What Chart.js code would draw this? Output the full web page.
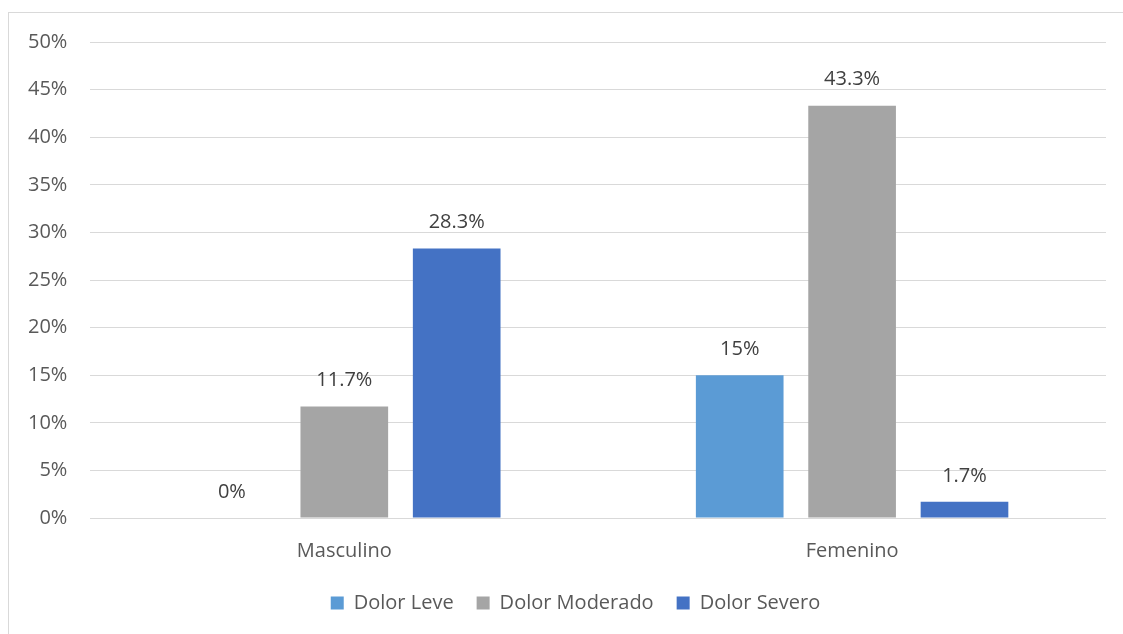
<!DOCTYPE html>
<html>
<head>
<meta charset="utf-8">
<script src="https://cdn.jsdelivr.net/npm/chart.js@4"></script>
<style>
  html, body { margin: 0; padding: 0; background: #fff; }
  #wrap { position: relative; width: 1123px; height: 634px; overflow: hidden; }
  #frame { position: absolute; left: 8px; top: 12px; width: 1200px; height: 700px; border: 1px solid #d9d9d9; }
  canvas { position: absolute; left: 0; top: 0; }
</style>
</head>
<body>
<div id="wrap">
  <div id="frame"></div>
  <canvas id="grafico" width="1123" height="634"></canvas>
</div>
<script>
// categorias y series (porcentaje)
var categorias = ['Masculino', 'Femenino'];
var series = ['Dolor Leve', 'Dolor Moderado', 'Dolor Severo'];
var dolorLeve = [0, 15];
var dolorModerado = [11.7, 43.3];
var dolorSevero = [28.3, 1.7];
var colores = ['#5b9bd5', '#a5a5a5', '#4472c4'];

var fuente = 'Open Sans, sans-serif';
var tam = 20;

// etiquetas de valor encima de cada barra
var etiquetas = {
    id: 'etiquetas',
    afterLayout: function (chart) {
        // leyenda corrida a la derecha y un poco arriba
        chart.legend.left += 20;
        chart.legend.right += 20;
        chart.legend.top -= 6;
        chart.legend.bottom -= 6;
    },
    afterDatasetsDraw: function (chart) {
        var ctx = chart.ctx;
        ctx.save();
        ctx.font = tam + 'px ' + fuente;
        ctx.fillStyle = '#404040';
        ctx.textAlign = 'center';
        ctx.textBaseline = 'middle';
        chart.data.datasets.forEach(function (ds, i) {
            chart.getDatasetMeta(i).data.forEach(function (bar, j) {
                ctx.fillText(ds.data[j] + '%', bar.x, bar.y - 26);
            });
        });
        ctx.restore();
    }
};

var datos = [dolorLeve, dolorModerado, dolorSevero];
var ctx = document.getElementById('grafico');
var grafico = new Chart(ctx, {
    type: 'bar',
    data: {
        labels: categorias,
        datasets: series.map(function (s, i) {
            return {
                label: s,
                data: datos[i],
                backgroundColor: colores[i],
                borderWidth: 0,
                barPercentage: 0.78,
                categoryPercentage: 0.664
            };
        })
    },
    options: {
        responsive: false,
        animation: false,
        layout: { padding: { left: 5, right: 17, top: 42, bottom: 5 } },
        plugins: {
            legend: {
                position: 'bottom',
                labels: {
                    boxWidth: 13,
                    boxHeight: 13,
                    padding: 23,
                    color: '#595959',
                    font: { family: fuente, size: tam }
                }
            },
            tooltip: { enabled: false }
        },
        scales: {
            x: {
                grid: { display: false },
                border: { display: false },
                ticks: { color: '#595959', padding: 24, font: { family: fuente, size: tam, lineHeight: 0.1 } }
            },
            y: {
                min: 0,
                max: 50,
                ticks: {
                    stepSize: 5,
                    padding: 23,
                    color: '#595959',
                    font: { family: fuente, size: tam },
                    callback: function (v) { return v + '%'; }
                },
                grid: { color: '#d9d9d9', lineWidth: 1, drawTicks: false },
                border: { display: false }
            }
        }
    },
    plugins: [etiquetas]
});
</script>
</body>
</html>
